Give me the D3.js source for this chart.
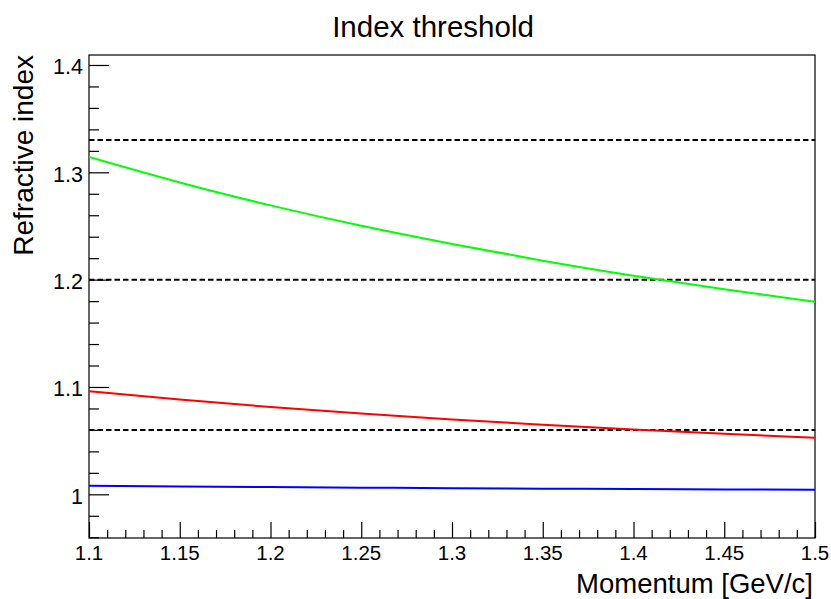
<!DOCTYPE html>
<html>
<head>
<meta charset="utf-8">
<script src="https://cdn.jsdelivr.net/npm/d3@7"></script>
<style>
  html, body { margin: 0; padding: 0; background: #fff; }
  svg { display: block; font-family: "Liberation Sans", Arial, Helvetica, sans-serif; }
</style>
</head>
<body>
<svg id="chart" width="831" height="599"></svg>
<script>
// Momentum sample points [GeV/c]
const momentum = [1.10, 1.15, 1.20, 1.25, 1.30, 1.35, 1.40, 1.45, 1.50];
// Threshold refractive index per particle
const protonIndex = [1.3142, 1.2905, 1.2692, 1.2502, 1.2333, 1.2177, 1.2037, 1.1910, 1.1794];
const kaonIndex   = [1.0961, 1.0883, 1.0813, 1.0752, 1.0697, 1.0648, 1.0604, 1.0564, 1.0528];
const pionIndex   = [1.0080, 1.0073, 1.0067, 1.0062, 1.0057, 1.0053, 1.0050, 1.0046, 1.0043];
// Radiator indices (dashed reference lines)
const radiatorIndex = [1.33, 1.20, 1.06];

const xTicks = [1.1, 1.15, 1.2, 1.25, 1.3, 1.35, 1.4, 1.45, 1.5];
const yTicks = [1, 1.1, 1.2, 1.3, 1.4];

const series = [
  { name: "proton", values: protonIndex, color: "#00ff00" },
  { name: "kaon",   values: kaonIndex,   color: "#ff0000" },
  { name: "pion",   values: pionIndex,   color: "#0000ff" }
];

const frame = { left: 89, right: 815, top: 55, bottom: 538 };
const svg = d3.select("#chart");

const x = d3.scaleLinear().domain([1.1, 1.5]).range([frame.left, frame.right]);
const y = d3.scaleLinear().domain([0.9593, 1.4093]).range([frame.bottom, frame.top]);

// Title
svg.append("text")
  .attr("x", 433).attr("y", 37)
  .attr("text-anchor", "middle")
  .attr("font-size", 29.5)
  .text("Index threshold");

// Frame
svg.append("rect")
  .attr("x", frame.left).attr("y", frame.top)
  .attr("width", frame.right - frame.left)
  .attr("height", frame.bottom - frame.top)
  .attr("fill", "none").attr("stroke", "#000").attr("stroke-width", 1.2);

svg.append("defs").append("clipPath").attr("id", "plot-clip")
  .append("rect")
  .attr("x", frame.left).attr("y", frame.top)
  .attr("width", frame.right - frame.left)
  .attr("height", frame.bottom - frame.top);

const plot = svg.append("g").attr("clip-path", "url(#plot-clip)");

// Dashed radiator lines
plot.selectAll("line.radiator")
  .data(radiatorIndex)
  .join("line")
  .attr("class", "radiator")
  .attr("x1", x(1.1)).attr("x2", x(1.5))
  .attr("y1", d => y(d)).attr("y2", d => y(d))
  .attr("stroke", "#000").attr("stroke-width", 2)
  .attr("stroke-dasharray", "5.5,3");

// Threshold curves
const line = d3.line()
  .x((d, i) => x(momentum[i]))
  .y(d => y(d))
  .curve(d3.curveNatural);

plot.selectAll("path.curve")
  .data(series)
  .join("path")
  .attr("class", "curve")
  .attr("d", d => line(d.values))
  .attr("fill", "none")
  .attr("stroke", d => d.color)
  .attr("stroke-width", 2);

// X axis (major + minor ticks, pointing up into the frame)
const xMinor = d3.range(0, 41).map(i => 1.1 + i * 0.01)
  .filter(v => !xTicks.some(t => Math.abs(t - v) < 1e-6));
const xAxisMajor = d3.axisTop(x).tickValues(xTicks).tickSize(16).tickFormat("");
const xAxisMinor = d3.axisTop(x).tickValues(xMinor).tickSize(8).tickFormat("");
[xAxisMajor, xAxisMinor].forEach(ax => {
  const g = svg.append("g").attr("transform", `translate(0,${frame.bottom})`).call(ax);
  g.select(".domain").remove();
  g.selectAll(".tick line").attr("stroke", "#000").attr("stroke-width", 1.2);
});
svg.append("g").selectAll("text")
  .data(xTicks)
  .join("text")
  .attr("x", d => x(d)).attr("y", 559.5)
  .attr("text-anchor", "middle")
  .attr("font-size", 20.5)
  .text(d => d3.format("")(+d.toFixed(2)));

// Y axis
const yMinor = d3.range(0, 30).map(i => 0.96 + i * 0.02)
  .filter(v => v >= 0.9593 && v <= 1.4093)
  .filter(v => !yTicks.some(t => Math.abs(t - v) < 1e-6));
const yAxisMajor = d3.axisRight(y).tickValues(yTicks).tickSize(20).tickFormat("");
const yAxisMinor = d3.axisRight(y).tickValues(yMinor).tickSize(10).tickFormat("");
[yAxisMajor, yAxisMinor].forEach(ax => {
  const g = svg.append("g").attr("transform", `translate(${frame.left},0)`).call(ax);
  g.select(".domain").remove();
  g.selectAll(".tick line").attr("stroke", "#000").attr("stroke-width", 1.2);
});
svg.append("g").selectAll("text")
  .data(yTicks)
  .join("text")
  .attr("x", 83).attr("y", d => y(d) + 9.5)
  .attr("text-anchor", "end")
  .attr("font-size", 21.5)
  .text(d => d3.format("")(+d.toFixed(1)));

// Axis titles
svg.append("text")
  .attr("x", 813).attr("y", 593)
  .attr("text-anchor", "end")
  .attr("font-size", 27.5)
  .text("Momentum [GeV/c]");

svg.append("text")
  .attr("transform", "translate(33,55) rotate(-90)")
  .attr("text-anchor", "end")
  .attr("font-size", 28)
  .text("Refractive index");
</script>
</body>
</html>
